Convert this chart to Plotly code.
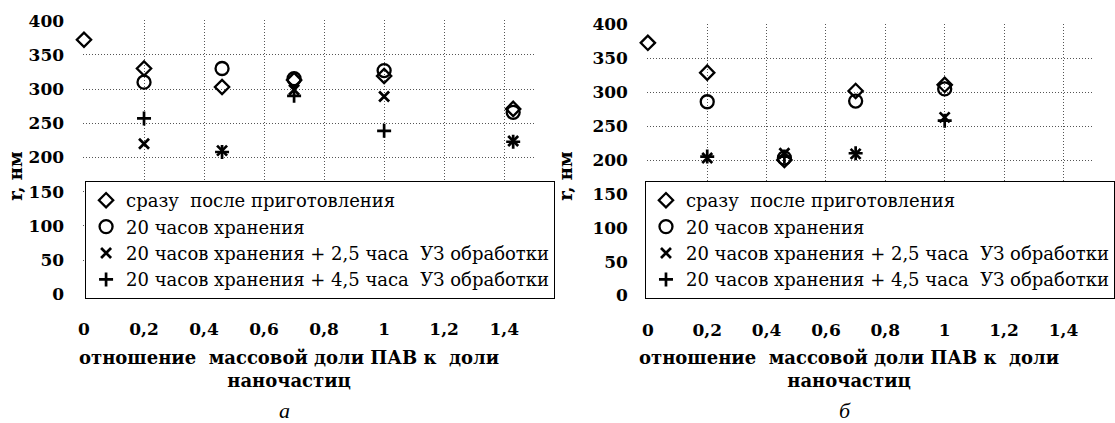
import plotly.graph_objects as go

# ---------------- data ----------------
x_a = [0, 0.2, 0.46, 0.7, 1.0, 1.43]
a_fresh = [372, 330, 303, 313, 319, 271]
a_20h = [None, 310, 330, 315, 327, 266]
a_25 = [None, 220, 210, 299, 289, 224]
a_45 = [None, 257, 208, 290, 239, 223]

x_b = [0, 0.2, 0.46, 0.7, 1.0]
b_fresh = [373, 329, 200, 302, 311]
b_20h = [None, 286, 203, 287, 305]
b_25 = [None, 203, 210, 209, 263]
b_45 = [None, 205, 205, 210, 258]

series_names = [
    "сразу  после приготовления",
    "20 часов хранения",
    "20 часов хранения + 2,5 часа  УЗ обработки",
    "20 часов хранения + 4,5 часа  УЗ обработки",
]
x_tickvals = [0, 0.2, 0.4, 0.6, 0.8, 1.0, 1.2, 1.4]
x_ticktext = ["0", "0,2", "0,4", "0,6", "0,8", "1", "1,2", "1,4"]
y_tickvals = [0, 50, 100, 150, 200, 250, 300, 350, 400]

x_title = "отношение  массовой доли ПАВ к  доли<br>наночастиц"
y_title = "r, нм"
panel_labels = ["а", "б"]

# ---------------- styling ----------------
W, H = 1115, 423
SERIF = '"DejaVu Serif", "Liberation Serif", serif'
TIMES = '"Liberation Serif", "Times New Roman", serif'
symbols = ["diamond-open", "circle-open", "x-thin", "cross-thin"]
sizes = [11, 13, 10, 10]
widths = [2.3, 2.3, 2.7, 2.7]

fig = go.Figure()

for xs, ys_list, xa, ya, lg in [
    (x_a, [a_fresh, a_20h, a_25, a_45], "x", "y", "legend"),
    (x_b, [b_fresh, b_20h, b_25, b_45], "x2", "y2", "legend2"),
]:
    for i, ys in enumerate(ys_list):
        fig.add_trace(go.Scatter(
            x=xs, y=ys, mode="markers", name=series_names[i],
            xaxis=xa, yaxis=ya, legend=lg,
            marker=dict(symbol=symbols[i], size=sizes[i], color="black",
                        line=dict(color="black", width=widths[i])),
            cliponaxis=False,
        ))

def px_x(p):
    return p / W

def px_y(p):
    return (H - p) / H

grid = dict(showgrid=True, gridcolor="#555", griddash="1px,2px", gridwidth=1,
            zeroline=False, showline=False, ticks="", automargin=False)
tick_font = dict(family=SERIF, size=17, color="black", weight="bold")

leg_common = dict(xanchor="left", yanchor="top",
                  bgcolor="white", bordercolor="black", borderwidth=1,
                  font=dict(family=SERIF, size=18, color="black"),
                  tracegroupgap=0, itemwidth=30)

fig.update_layout(
    width=W, height=H,
    margin=dict(l=0, r=0, t=0, b=0),
    paper_bgcolor="white", plot_bgcolor="white",
    font=dict(family=SERIF, color="black"),
    xaxis=dict(domain=[px_x(84), px_x(540)], range=[-0.003, 1.5], anchor="y",
               tickvals=x_tickvals, ticktext=x_ticktext, tickfont=tick_font,
               ticklabelstandoff=22, **grid),
    yaxis=dict(domain=[px_y(295), px_y(20)], range=[-0.8, 400.8], anchor="x",
               tickvals=y_tickvals, tickfont=tick_font,
               ticklabelstandoff=18, **grid),
    xaxis2=dict(domain=[px_x(654), px_x(1105)], range=[-0.003, 1.5], anchor="y2",
                tickvals=x_tickvals, ticktext=x_ticktext, tickfont=tick_font,
                ticklabelstandoff=22, **grid),
    yaxis2=dict(domain=[px_y(296), px_y(24)], range=[-0.8, 400.8], anchor="x2",
                tickvals=y_tickvals, tickfont=tick_font,
                ticklabelstandoff=18, **grid),
    legend=dict(x=px_x(86), y=px_y(181), **leg_common),
    legend2=dict(x=px_x(652), y=px_y(181), **leg_common),
    showlegend=True,
)

annots = []
for yx, xc, lab in [(15, 292, panel_labels[0]), (571, 858, panel_labels[1])]:
    annots.append(dict(text=y_title, x=px_x(yx), y=px_y(176), xref="paper", yref="paper",
                       xanchor="center", yanchor="middle",
                       textangle=-90, showarrow=False,
                       font=dict(family=SERIF, size=18, color="black", weight="bold")))
    annots.append(dict(text=x_title, x=px_x(xc), y=px_y(369), xref="paper", yref="paper",
                       xanchor="center", yanchor="middle",
                       showarrow=False, align="center",
                       font=dict(family=SERIF, size=18, color="black", weight="bold")))
    annots.append(dict(text=lab, x=px_x(xc - 4), y=px_y(410), xref="paper", yref="paper",
                       xanchor="center", yanchor="middle",
                       showarrow=False,
                       font=dict(family=TIMES, size=22, color="black", style="italic")))
fig.update_layout(annotations=annots)

fig.write_html("out.html",
               config={"displayModeBar": False},
               post_script="document.body.style.margin='0';document.body.style.overflow='hidden';")
